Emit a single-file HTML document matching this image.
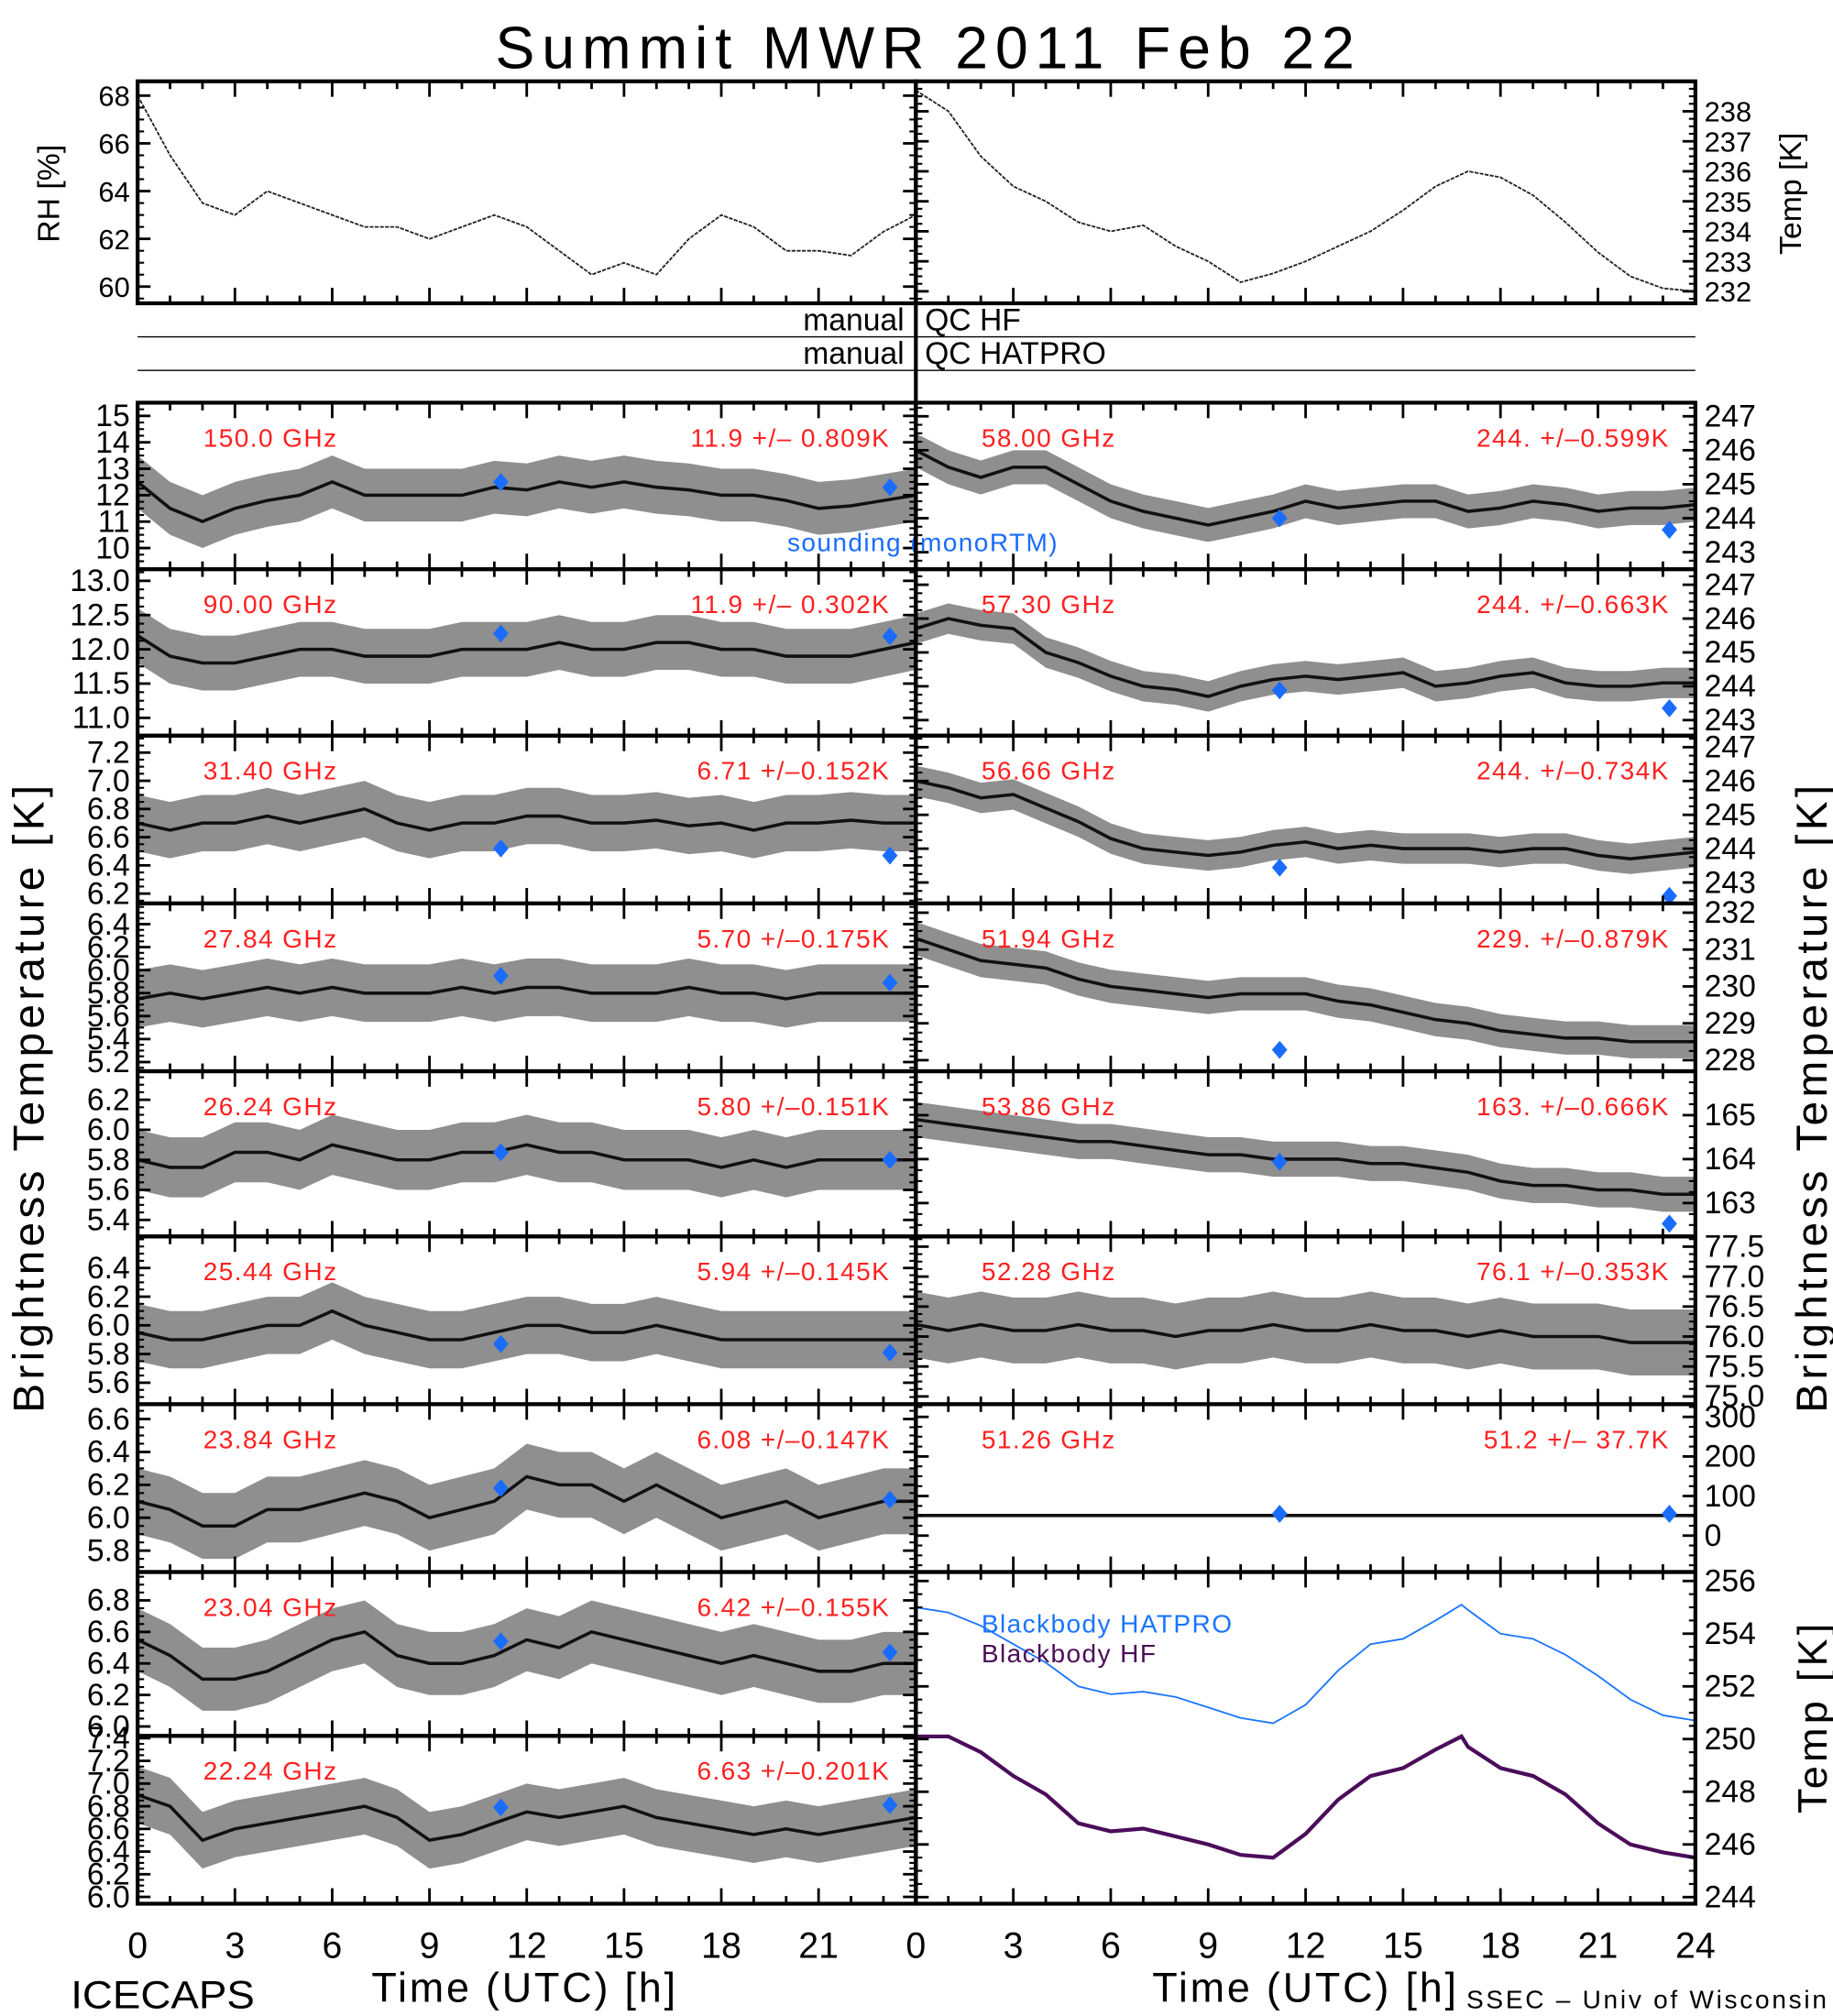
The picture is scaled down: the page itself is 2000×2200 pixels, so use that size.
<!DOCTYPE html>
<html><head><meta charset="utf-8"><style>
html,body{margin:0;padding:0;background:#fff;}
svg{display:block;font-family:"Liberation Sans",sans-serif;}
</style></head><body>
<svg id="chart" width="2000" height="2200" viewBox="0 0 1425 1562" preserveAspectRatio="none" xmlns="http://www.w3.org/2000/svg">
<text x="385" y="53" font-size="46" textLength="668" lengthAdjust="spacing">Summit  MWR  2011  Feb  22</text>
<text x="46" y="150" font-size="24" text-anchor="middle" transform="rotate(-90 46 150)">RH [%]</text>
<text x="1400" y="150" font-size="24" text-anchor="middle" transform="rotate(-90 1400 150)">Temp [K]</text>
<text x="34" y="850" font-size="34" text-anchor="middle" letter-spacing="3" transform="rotate(-90 34 850)">Brightness  Temperature  [K]</text>
<text x="1420" y="850" font-size="34" text-anchor="middle" letter-spacing="3" transform="rotate(-90 1420 850)">Brightness  Temperature  [K]</text>
<text x="1420" y="1330" font-size="32" text-anchor="middle" letter-spacing="3" transform="rotate(-90 1420 1330)">Temp [K]</text>
<text x="55" y="1556" font-size="30" textLength="143" lengthAdjust="spacingAndGlyphs">ICECAPS</text>
<text x="408" y="1551" font-size="32" text-anchor="middle" letter-spacing="2">Time (UTC) [h]</text>
<text x="1015" y="1551" font-size="32" text-anchor="middle" letter-spacing="2">Time (UTC) [h]</text>
<text x="1140" y="1556" font-size="20" textLength="280" lengthAdjust="spacing">SSEC – Univ of Wisconsin</text>
<g id="plots"></g>
</svg>
<script>
// ---- data (hourly values, 0..24 h) ----
const hours = [0,1,2,3,4,5,6,7,8,9,10,11,12,13,14,15,16,17,18,19,20,21,22,23,24];
const rhValues = [68,65.5,63.5,63,64,63.5,63,62.5,62.5,62,62.5,63,62.5,61.5,60.5,61,60.5,62,63,62.5,61.5,61.5,61.3,62.3,63];
const airTempValues = [238.7,238,236.5,235.5,235,234.3,234,234.2,233.5,233,232.3,232.6,233,233.5,234,234.7,235.5,236,235.8,235.2,234.3,233.3,232.5,232.1,232];
const tb150 = [12.5,11.5,11,11.5,11.8,12,12.5,12,12,12,12,12.3,12.2,12.5,12.3,12.5,12.3,12.2,12,12,11.8,11.5,11.6,11.8,12];
const tb90 = [12.2,11.9,11.8,11.8,11.9,12,12,11.9,11.9,11.9,12,12,12,12.1,12,12,12.1,12.1,12,12,11.9,11.9,11.9,12,12.1];
const tb3140 = [6.7,6.65,6.7,6.7,6.75,6.7,6.75,6.8,6.7,6.65,6.7,6.7,6.75,6.75,6.7,6.7,6.72,6.68,6.7,6.65,6.7,6.7,6.72,6.7,6.7];
const tb2784 = [5.75,5.8,5.75,5.8,5.85,5.8,5.85,5.8,5.8,5.8,5.85,5.8,5.85,5.85,5.8,5.8,5.8,5.85,5.8,5.8,5.75,5.8,5.8,5.8,5.8];
const tb2624 = [5.8,5.75,5.75,5.85,5.85,5.8,5.9,5.85,5.8,5.8,5.85,5.85,5.9,5.85,5.85,5.8,5.8,5.8,5.75,5.8,5.75,5.8,5.8,5.8,5.8];
const tb2544 = [5.95,5.9,5.9,5.95,6.0,6.0,6.1,6.0,5.95,5.9,5.9,5.95,6.0,6.0,5.95,5.95,6.0,5.95,5.9,5.9,5.9,5.9,5.9,5.9,5.9];
const tb2384 = [6.1,6.05,5.95,5.95,6.05,6.05,6.1,6.15,6.1,6.0,6.05,6.1,6.25,6.2,6.2,6.1,6.2,6.1,6.0,6.05,6.1,6.0,6.05,6.1,6.1];
const tb2304 = [6.55,6.45,6.3,6.3,6.35,6.45,6.55,6.6,6.45,6.4,6.4,6.45,6.55,6.5,6.6,6.55,6.5,6.45,6.4,6.45,6.4,6.35,6.35,6.4,6.4];
const tb2224 = [6.9,6.8,6.5,6.6,6.65,6.7,6.75,6.8,6.7,6.5,6.55,6.65,6.75,6.7,6.75,6.8,6.7,6.65,6.6,6.55,6.6,6.55,6.6,6.65,6.7];
const tb5800 = [246,245.5,245.2,245.5,245.5,245,244.5,244.2,244,243.8,244,244.2,244.5,244.3,244.4,244.5,244.5,244.2,244.3,244.5,244.4,244.2,244.3,244.3,244.4];
const tb5730 = [245.7,246,245.8,245.7,245,244.7,244.3,244,243.9,243.7,244,244.2,244.3,244.2,244.3,244.4,244,244.1,244.3,244.4,244.1,244,244,244.1,244.1];
const tb5666 = [246,245.8,245.5,245.6,245.2,244.8,244.3,244,243.9,243.8,243.9,244.1,244.2,244,244.1,244,244,244,243.9,244,244,243.8,243.7,243.8,243.9];
const tb5194 = [231.3,231,230.7,230.6,230.5,230.2,230,229.9,229.8,229.7,229.8,229.8,229.8,229.6,229.5,229.3,229.1,229,228.8,228.7,228.6,228.6,228.5,228.5,228.5];
const tb5386 = [164.9,164.8,164.7,164.6,164.5,164.4,164.4,164.3,164.2,164.1,164.1,164,164,164,163.9,163.9,163.8,163.7,163.5,163.4,163.4,163.3,163.3,163.2,163.2];
const tb5228 = [76.2,76.1,76.2,76.1,76.1,76.2,76.1,76.1,76.0,76.1,76.1,76.2,76.1,76.1,76.2,76.1,76.1,76.0,76.1,76.0,76.0,76.0,75.9,75.9,75.9];
const tb5126 = [51,51,51,51,51,51,51,51,51,51,51,51,51,51,51,51,51,51,51,51,51,51,51,51,51];
const soundingTimes = [11.2, 23.2];
const bbTimes = [0,1,2,3,4,5,6,7,8,9,10,11,12,13,14,15,16,16.8,17,18,19,20,21,22,23,24];
const bbHatpro = [255.0,254.8,254.3,253.6,252.9,252.0,251.7,251.8,251.6,251.2,250.8,250.6,251.3,252.6,253.6,253.8,254.5,255.1,254.9,254.0,253.8,253.2,252.4,251.5,250.9,250.7];
const bbHf = [250.1,250.1,249.5,248.6,247.9,246.8,246.5,246.6,246.3,246.0,245.6,245.5,246.4,247.7,248.6,248.9,249.6,250.1,249.7,248.9,248.6,247.9,246.8,246.0,245.7,245.5];

// ---- panel definitions (axis ranges / labels) ----
const channels = [
 {col:0,row:0,freq:'150.0 GHz',stat:'11.9 +/– 0.809K',vals:tb150,spread:1.0,lo:9.2,hi:15.5,ticks:[10,11,12,13,14,15],fmt:0,snd:[12.5,12.3]},
 {col:0,row:1,freq:'90.00 GHz',stat:'11.9 +/– 0.302K',vals:tb90,spread:0.4,lo:10.74,hi:13.17,ticks:[11,11.5,12,12.5,13],fmt:1,snd:[12.23,12.19]},
 {col:0,row:2,freq:'31.40 GHz',stat:'6.71 +/–0.152K',vals:tb3140,spread:0.2,lo:6.13,hi:7.32,ticks:[6.2,6.4,6.6,6.8,7.0,7.2],fmt:1,snd:[6.52,6.47]},
 {col:0,row:3,freq:'27.84 GHz',stat:'5.70 +/–0.175K',vals:tb2784,spread:0.25,lo:5.12,hi:6.58,ticks:[5.2,5.4,5.6,5.8,6.0,6.2,6.4],fmt:1,snd:[5.95,5.89]},
 {col:0,row:4,freq:'26.24 GHz',stat:'5.80 +/–0.151K',vals:tb2624,spread:0.2,lo:5.29,hi:6.39,ticks:[5.4,5.6,5.8,6.0,6.2],fmt:1,snd:[5.85,5.8]},
 {col:0,row:5,freq:'25.44 GHz',stat:'5.94 +/–0.145K',vals:tb2544,spread:0.2,lo:5.45,hi:6.62,ticks:[5.6,5.8,6.0,6.2,6.4],fmt:1,snd:[5.87,5.81]},
 {col:0,row:6,freq:'23.84 GHz',stat:'6.08 +/–0.147K',vals:tb2384,spread:0.2,lo:5.67,hi:6.69,ticks:[5.8,6.0,6.2,6.4,6.6],fmt:1,snd:[6.18,6.11]},
 {col:0,row:7,freq:'23.04 GHz',stat:'6.42 +/–0.155K',vals:tb2304,spread:0.2,lo:5.94,hi:6.98,ticks:[6.0,6.2,6.4,6.6,6.8],fmt:1,snd:[6.54,6.47]},
 {col:0,row:8,freq:'22.24 GHz',stat:'6.63 +/–0.201K',vals:tb2224,spread:0.25,lo:5.94,hi:7.42,ticks:[6.0,6.2,6.4,6.6,6.8,7.0,7.2,7.4],fmt:1,snd:[6.79,6.81]},
 {col:1,row:0,freq:'58.00 GHz',stat:'244. +/–0.599K',vals:tb5800,spread:0.5,lo:242.5,hi:247.4,ticks:[243,244,245,246,247],fmt:0,snd:[244.0,243.66]},
 {col:1,row:1,freq:'57.30 GHz',stat:'244. +/–0.663K',vals:tb5730,spread:0.45,lo:242.54,hi:247.46,ticks:[243,244,245,246,247],fmt:0,snd:[243.88,243.35]},
 {col:1,row:2,freq:'56.66 GHz',stat:'244. +/–0.734K',vals:tb5666,spread:0.45,lo:242.38,hi:247.34,ticks:[243,244,245,246,247],fmt:0,snd:[243.44,242.6]},
 {col:1,row:3,freq:'51.94 GHz',stat:'229. +/–0.879K',vals:tb5194,spread:0.45,lo:227.7,hi:232.25,ticks:[228,229,230,231,232],fmt:0,snd:[228.28,null]},
 {col:1,row:4,freq:'53.86 GHz',stat:'163. +/–0.666K',vals:tb5386,spread:0.4,lo:162.24,hi:166.0,ticks:[163,164,165],fmt:0,snd:[163.94,162.53]},
 {col:1,row:5,freq:'52.28 GHz',stat:'76.1 +/–0.353K',vals:tb5228,spread:0.55,lo:74.87,hi:77.67,ticks:[75,75.5,76,76.5,77,77.5],fmt:1,snd:[null,null]},
 {col:1,row:6,freq:'51.26 GHz',stat:'51.2 +/– 37.7K',vals:tb5126,spread:3,lo:-92,hi:332,ticks:[0,100,200,300],fmt:0,snd:[55,55]}
];
const rowTops = [312,441,570,700,830,958,1088,1218,1345,1475];
const colX = [[107,712],[712,1318]];
const NS='http://www.w3.org/2000/svg';
const plots=document.getElementById('plots');
function mk(tag,attrs,parent){const e=document.createElementNS(NS,tag);for(const k in attrs)e.setAttribute(k,attrs[k]);(parent||plots).appendChild(e);return e;}
function xScale(col){const [a,b]=colX[col];return h=>a+(b-a)*h/24;}
function yScale(lo,hi,top,bot){return v=>bot-(v-lo)/(hi-lo)*(bot-top);}

function xTicks(g,col,top,bot){
  const xs=xScale(col);
  for(let h=0;h<=24;h++){
    const L=(h%3===0)?12:6;
    mk('line',{x1:xs(h),x2:xs(h),y1:bot,y2:bot-L,stroke:'#000','stroke-width':2},g);
    mk('line',{x1:xs(h),x2:xs(h),y1:top,y2:top+L,stroke:'#000','stroke-width':2},g);
  }
}
function frame(g,col,top,bot){
  const [a,b]=colX[col];
  mk('rect',{x:a,y:top,width:b-a,height:bot-top,fill:'none',stroke:'#000','stroke-width':3},g);
}
function yTicks(g,col,ys,ticks,fmt,top,bot,side,fs){
  const [a,b]=colX[col];
  ticks.forEach(t=>{
    const y=ys(t);
    mk('line',{x1:a,x2:a+10,y1:y,y2:y,stroke:'#000','stroke-width':2},g);
    mk('line',{x1:b,x2:b-10,y1:y,y2:y,stroke:'#000','stroke-width':2},g);
    const lab=mk('text',{x:side==='left'?a-6:b+7,y:y+8,'font-size':fs||24,'text-anchor':side==='left'?'end':'start'},g);
    
    
    lab.textContent=t.toFixed(fmt);
  });
  const step=(ticks[1]-ticks[0])/4;
  for(let v=ticks[0]-8*step;v<=ticks[ticks.length-1]+8*step;v+=step){
    const y=ys(v); if(y<top+2||y>bot-2) continue;
    mk('line',{x1:a,x2:a+5,y1:y,y2:y,stroke:'#000','stroke-width':1.5},g);
    mk('line',{x1:b,x2:b-5,y1:y,y2:y,stroke:'#000','stroke-width':1.5},g);
  }
}
function linePts(xs,ys,ts,vs){return ts.map((t,i)=>xs(t).toFixed(1)+','+ys(vs[i]).toFixed(1)).join(' ');}

// ---- top panels ----
function topPanel(col,vals,lo,hi,ticks,name){
  const g=mk('g',{});  
  const top=63,bot=235,xs=xScale(col),ys=yScale(lo,hi,top,bot);
  const p=mk('polyline',{points:linePts(xs,ys,hours,vals),fill:'none',stroke:'#222','stroke-width':1.3,'stroke-dasharray':'3 1'},g);
   
  yTicks(g,col,ys,ticks,0,top,bot,col===0?'left':'right',22);
  xTicks(g,col,top,bot); frame(g,col,top,bot);
}
topPanel(0,rhValues,59.3,68.6,[60,62,64,66,68],'rh-panel');
topPanel(1,airTempValues,231.6,239.0,[232,233,234,235,236,237,238],'air-temp-panel');

// QC rows
[[261,'QC  HF'],[287,'QC  HATPRO']].forEach(([y,lab],i)=>{
  const l=mk('line',{x1:107,x2:1318,y1:y,y2:y,stroke:'#000','stroke-width':1});
   
  const t1=mk('text',{x:703,y:y-5,'font-size':24,'text-anchor':'end'}); t1.textContent='manual';
   
  const t2=mk('text',{x:719,y:y-5,'font-size':24}); t2.textContent=lab;
   
});

// ---- channel panels ----
channels.forEach(c=>{
  const g=mk('g',{});  
  const top=rowTops[c.row],bot=rowTops[c.row+1],xs=xScale(c.col),ys=yScale(c.lo,c.hi,top,bot);
  const clipId='clip'+c.col+c.row;
  const cp=mk('clipPath',{id:clipId},g); mk('rect',{x:colX[c.col][0],y:top,width:colX[c.col][1]-colX[c.col][0],height:bot-top},cp);
  const inner=mk('g',{'clip-path':'url(#'+clipId+')'},g);
  const upper=hours.map((h,i)=>xs(h).toFixed(1)+','+ys(c.vals[i]+c.spread).toFixed(1));
  const lower=hours.map((h,i)=>xs(h).toFixed(1)+','+ys(c.vals[i]-c.spread).toFixed(1)).reverse();
  const band=mk('polygon',{points:upper.concat(lower).join(' '),fill:'#6a6a6a','fill-opacity':0.75},inner);
   
  const ln=mk('polyline',{points:linePts(xs,ys,hours,c.vals),fill:'none',stroke:'#111','stroke-width':2.5},inner);
   
  c.snd.forEach((v,i)=>{ if(v===null) return;
    const x=xs(soundingTimes[i]),y=ys(v);
    const d=mk('polygon',{points:`${x},${y-7} ${x+6},${y} ${x},${y+7} ${x-6},${y}`,fill:'#1a6cff'},g);
     
  });
  yTicks(g,c.col,ys,c.ticks,c.fmt,top,bot,c.col===0?'left':'right',24);
  xTicks(g,c.col,top,bot); frame(g,c.col,top,bot);
  const f=mk('text',{x:colX[c.col][0]+51,y:top+34,'font-size':20,fill:'#ff2020','letter-spacing':1},g); f.textContent=c.freq;
   
  const s=mk('text',{x:colX[c.col][1]-20,y:top+34,'font-size':20,fill:'#ff2020','text-anchor':'end','letter-spacing':1},g); s.textContent=c.stat;
   
});
const snd=mk('text',{x:612,y:427,'font-size':20,fill:'#1a6cff','letter-spacing':1}); snd.textContent='sounding  (monoRTM)';
 

// ---- blackbody panel ----
(function(){
  const g=mk('g',{});  
  const top=1218,bot=1475,xs=xScale(1),ys=yScale(243.75,256.34,top,bot);
  const l1=mk('polyline',{points:linePts(xs,ys,bbTimes,bbHatpro),fill:'none',stroke:'#1a75ff','stroke-width':1.3},g);
   
  const l2=mk('polyline',{points:linePts(xs,ys,bbTimes,bbHf),fill:'none',stroke:'#4b0d5a','stroke-width':3},g);
   
  yTicks(g,1,ys,[244,246,248,250,252,254,256],0,top,bot,'right',24);
  xTicks(g,1,top,bot); frame(g,1,top,bot);
  const a=mk('text',{x:763,y:1265,'font-size':20,fill:'#1a75ff','letter-spacing':1},g); a.textContent='Blackbody  HATPRO';
   
  const b=mk('text',{x:763,y:1288,'font-size':20,fill:'#4b0d5a','letter-spacing':1},g); b.textContent='Blackbody  HF';
   
})();

// divider
const dv=mk('line',{x1:712,x2:712,y1:63,y2:1475,stroke:'#000','stroke-width':3});
 

// x tick labels
[[0,[0,3,6,9,12,15,18,21]],[1,[0,3,6,9,12,15,18,21,24]]].forEach(([col,hs])=>{
  const xs=xScale(col);
  hs.forEach(h=>{const t=mk('text',{x:xs(h),y:1517,'font-size':28,'text-anchor':'middle'}); t.textContent=h;
     });
});
</script>
</body></html>
